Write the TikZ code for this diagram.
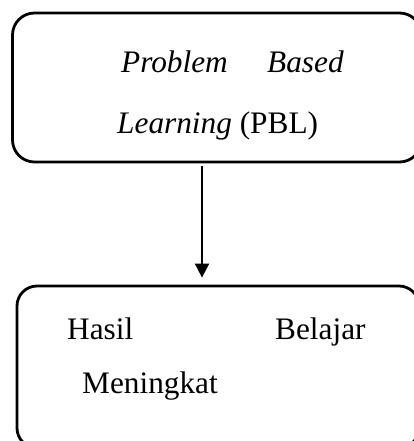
\documentclass[tikz,border=0pt]{standalone}
\usepackage{fontspec}
\setmainfont{Liberation Serif}
\usepackage{tikz}
\usetikzlibrary{arrows.meta,positioning}

\tikzset{
  box/.style={draw, line width=2.8pt, rounded corners=#1, inner sep=0pt},
  txt/.style={anchor=base west, inner sep=0pt, font=\fontsize{31.3}{36}\selectfont},
  arr/.style={-{Triangle[length=14pt,width=14pt]}, line width=2pt}
}

\begin{document}
\begin{tikzpicture}[x=1pt,y=-1pt]
\useasboundingbox (0,0) rectangle (414,441);
\clip (0,0) rectangle (414,441);

\node[box=22pt, minimum width=409pt, minimum height=149pt] (pbl) at (217,87.5) {};
\node[box=20pt, minimum width=402pt, minimum height=162pt] (hasil) at (218,367) {};

%words as they sit in the boxes
\node[txt] (problem) at (121,73) {\textit{Problem}};
\node[txt] (based) at (267,73) {\textit{Based}};
\node[txt] (learning) at (117,133) {\textit{Learning} (PBL)};
\node[txt] (hasilw) at (67,339) {Hasil};
\node[txt] (belajar) at (275,339) {Belajar};
\node[txt] (meningkat) at (82,393) {Meningkat};

\draw[arr] ([xshift=-15pt,yshift=-3pt]pbl.south) -- ([xshift=-16pt,yshift=7pt]hasil.north);
\end{tikzpicture}
\end{document}
